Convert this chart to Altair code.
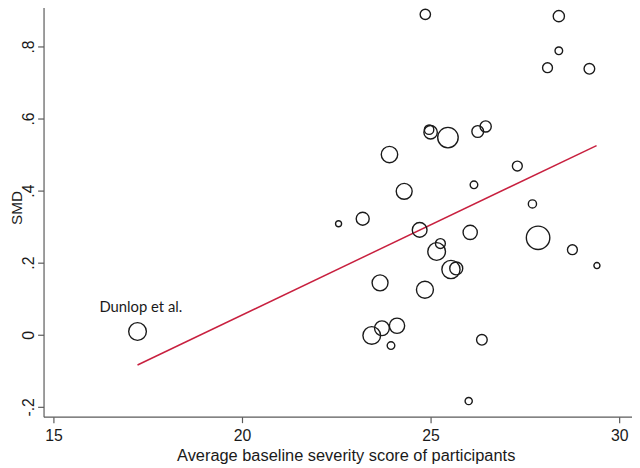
import altair as alt
import pandas as pd

# Study-level data
baseline = [24.86, 28.40, 28.40, 28.10, 29.21, 25.00, 24.96, 25.46, 26.25, 26.46,
            23.91, 27.30, 24.30, 26.15, 27.70, 23.20, 22.56, 24.71, 26.05, 25.26,
            25.16, 27.85, 28.76, 29.41, 25.54, 25.68, 23.66, 24.85, 23.44, 23.71,
            24.11, 23.95, 26.36, 26.01, 17.23]
smd = [0.889, 0.884, 0.788, 0.741, 0.738, 0.562, 0.569, 0.547, 0.564, 0.578,
       0.500, 0.468, 0.398, 0.416, 0.363, 0.322, 0.308, 0.291, 0.284, 0.253,
       0.231, 0.269, 0.236, 0.192, 0.181, 0.184, 0.144, 0.125, -0.002, 0.018,
       0.025, -0.030, -0.014, -0.184, 0.009]
weight = [35, 41, 19, 32, 37, 59, 29, 137, 45, 41,
          88, 32, 83, 19, 22, 55, 12, 71, 66, 32,
          102, 180, 32, 12, 108, 55, 83, 94, 102, 71,
          76, 19, 37, 17, 102]

# Fitted line (ends)
fit_x = [17.23, 29.40]
fit_y = [-0.084, 0.525]

# Annotation
label_text = ["Dunlop et al."]
label_x = [16.22]
label_y = [0.062]

x_ticks = [15, 20, 25, 30]
y_ticks = [-0.2, 0, 0.2, 0.4, 0.6, 0.8]

pts = pd.DataFrame({"x": baseline, "y": smd, "w": weight})
fit = pd.DataFrame({"x": fit_x, "y": fit_y})
lab = pd.DataFrame({"x": label_x, "y": label_y, "t": label_text})

xscale = alt.Scale(domain=[14.738, 30.34], nice=False, zero=False)
yscale = alt.Scale(domain=[-0.2274, 0.9205], nice=False, zero=False)

xaxis = alt.Axis(values=x_ticks, title="Average baseline severity score of participants",
                 grid=False, labelFontSize=16, titleFontSize=16.6, tickSize=6,
                 labelPadding=5, titlePadding=4.5, titleX=306, titleFontWeight="normal")
yaxis = alt.Axis(values=y_ticks, title="SMD", grid=False, labelFontSize=16,
                 titleFontSize=15.5, tickSize=6, labelAngle=270, labelAlign="center",
                 labelBaseline="bottom", labelPadding=1,
                 titleX=-22, titleY=207, titleAngle=270, titleAlign="center",
                 titleBaseline="alphabetic", titleFontWeight="normal",
                 labelExpr="datum.value == 0 ? '0' : (datum.value < 0 ? '-' : '') + replace(format(abs(datum.value), '.1f'), '0.', '.')")

points = alt.Chart(pts).mark_point(filled=False, stroke="#1a1a1a", strokeWidth=1.4,
                                   shape="circle", opacity=1).encode(
    x=alt.X("x:Q", scale=xscale, axis=xaxis),
    y=alt.Y("y:Q", scale=yscale, axis=yaxis),
    size=alt.Size("w:Q", scale=alt.Scale(type="linear", domain=[0, 180],
                                         range=[0, 565.5], zero=True), legend=None),
)

line = alt.Chart(fit).mark_line(color="#c8203f", strokeWidth=1.5).encode(
    x=alt.X("x:Q", scale=xscale),
    y=alt.Y("y:Q", scale=yscale),
)

text = alt.Chart(lab).mark_text(align="left", baseline="alphabetic", font="Lato",
                                fontSize=15, color="#1a1a1a").encode(
    x=alt.X("x:Q", scale=xscale),
    y=alt.Y("y:Q", scale=yscale),
    text="t:N",
)

chart = alt.layer(line, points, text).properties(
    width=596, height=419,
    autosize=alt.AutoSizeParams(type="none"),
    padding={"left": 36, "top": -8, "right": 0, "bottom": 49},
).configure_view(stroke=None).configure_axis(
    domainColor="#5a5a5a", tickColor="#5a5a5a", labelColor="#1a1a1a",
    titleColor="#1a1a1a", labelFont="Liberation Sans", titleFont="Liberation Sans",
    domainWidth=1.2, tickWidth=1.2,
)

chart.save("out.html", embed_options={"renderer": "svg", "actions": False})
